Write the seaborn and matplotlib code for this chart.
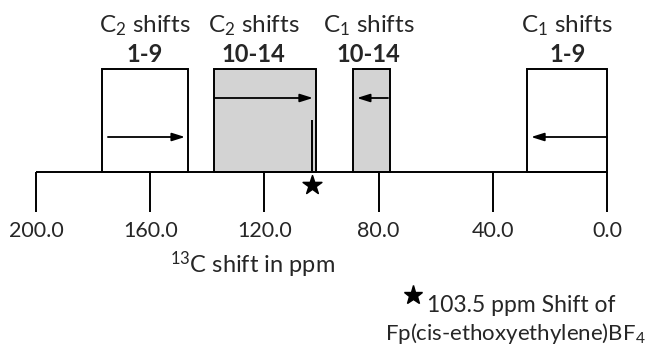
import matplotlib
matplotlib.use("Agg")
import matplotlib.pyplot as plt
import seaborn as sns
import pandas as pd

# ---------------- data ----------------
groups = ["C$_2$ shifts", "C$_2$ shifts", "C$_1$ shifts", "C$_1$ shifts"]
compounds = ["1-9", "10-14", "10-14", "1-9"]
range_high = [177.0, 137.7, 89.1, 27.9]
range_low = [146.8, 102.0, 75.9, 0.0]
arrow_start = [174.8, 137.3, 76.7, 0.0]
arrow_end = [147.8, 103.0, 87.6, 26.6]
shaded = [False, True, True, False]
ticks = [200, 160, 120, 80, 40, 0]
star_ppm = [103.5]
star_text = "103.5 ppm Shift of"
compound_text = "Fp(cis-ethoxyethylene)BF$_4$"
xlabel = "$^{13}$C shift in ppm"

# ---------------- style ----------------
sns.set_theme(style="white")
plt.rcParams['font.family'] = ['Lato', 'DejaVu Sans']
plt.rcParams['mathtext.fontset'] = 'custom'
plt.rcParams['mathtext.rm'] = 'Lato'
plt.rcParams['mathtext.it'] = 'Lato:italic'
plt.rcParams['mathtext.bf'] = 'Lato:bold'

BOX_H = 103
ARROW_Y = [35, 74, 74, 35]
LABEL_OFF = [0.0, 4.0, 1.0, 0.0]
GRAY = "#d3d3d3"
LW = 1.4

fig = plt.figure(figsize=(6.59, 3.44), dpi=100)
ax = fig.add_axes([0, 0, 1, 1])
ax.set_xlim(212.6, -18.2)
ax.set_ylim(-172, 172)
ax.axis('off')

df = pd.DataFrame({
    "group": groups, "compound": compounds,
    "high": range_high, "low": range_low,
    "a0": arrow_start, "a1": arrow_end, "shaded": shaded,
})
df["center"] = (df["high"] + df["low"]) / 2
df["width"] = df["high"] - df["low"]

ax.bar(df["center"], BOX_H, width=df["width"], bottom=0,
       color=[GRAY if s else "white" for s in df["shaded"]],
       edgecolor="black", linewidth=LW, zorder=2)

for i, r in df.iterrows():
    ax.annotate("", xy=(r["a1"], ARROW_Y[i]), xytext=(r["a0"], ARROW_Y[i]),
                arrowprops=dict(arrowstyle="-|>,head_length=0.7,head_width=0.22",
                                color="black", lw=1.3,
                                mutation_scale=11, shrinkA=0, shrinkB=0),
                zorder=3)
    cx = r["center"] + LABEL_OFF[i]
    ax.text(cx, 146, r["group"], ha="center", va="center", fontsize=17.5)
    ax.text(cx, 118, r["compound"], ha="center", va="center",
            fontsize=17, fontweight="bold")

# axis line and ticks
ax.plot([ticks[0], ticks[-1]], [0, 0], color="black", lw=LW, zorder=4,
        solid_capstyle="butt")
ax.vlines(ticks, -40, 0, color="black", lw=LW, zorder=4)
for t in ticks:
    ax.text(t, -59, f"{t:.1f}", ha="center", va="center", fontsize=15.5)
ax.text(124, -93, xlabel, ha="center", va="center", fontsize=17)

# marker line + star
ax.vlines(star_ppm, 0, 52, color="black", lw=LW, zorder=4)
sns.scatterplot(x=star_ppm, y=[-13], marker="*", s=200, color="black",
                edgecolor="black", ax=ax, zorder=5, legend=False)

# star legend
ax.plot([68], [-123], marker="*", markersize=14, color="black")
ax.text(63.0, -133, star_text, ha="left", va="center", fontsize=16.5)
ax.text(77.8, -161, compound_text, ha="left", va="center", fontsize=16)

ax.set_xlim(212.6, -18.2)
ax.set_ylim(-172, 172)
fig.savefig("out.png", dpi=100)
